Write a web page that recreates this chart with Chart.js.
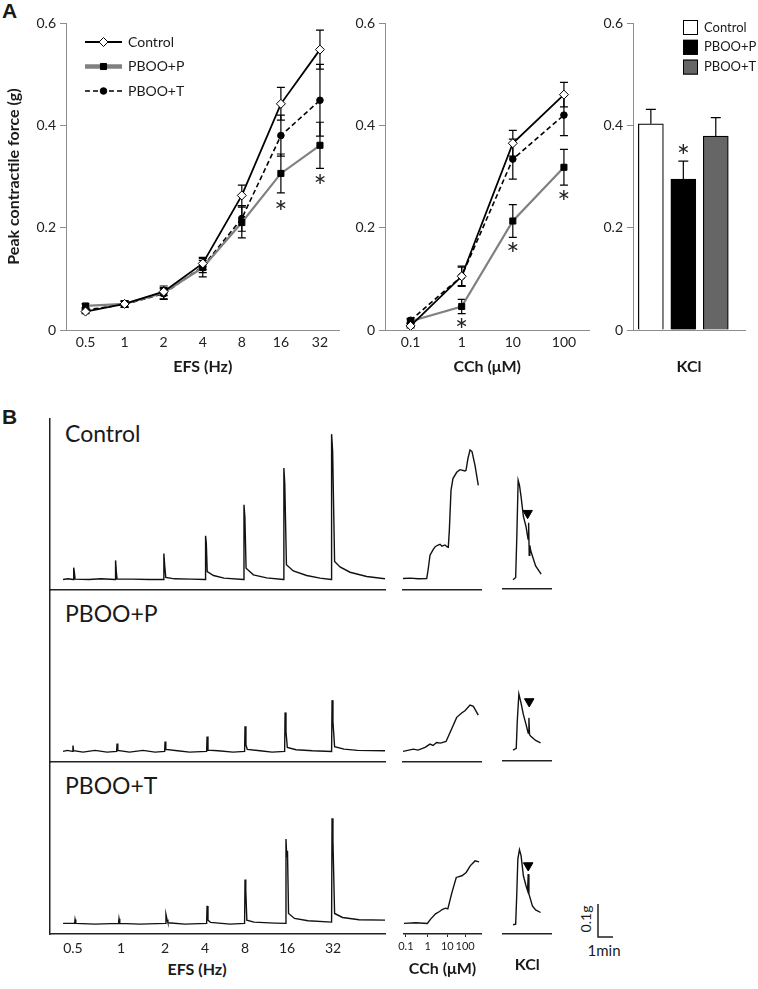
<!DOCTYPE html>
<html><head><meta charset="utf-8">
<script src="https://cdn.jsdelivr.net/npm/chart.js@4/dist/chart.umd.min.js"></script>
<style>
body{margin:0;background:#fff;}
#fig{position:relative;width:758px;height:989px;overflow:hidden;font-family:Lato,sans-serif;color:#1a1a1a;background:#fff;}
.t{position:absolute;white-space:nowrap;line-height:1.2;}
.pl{position:absolute;font-family:"Liberation Sans",Arial,sans-serif;font-weight:bold;font-size:21px;line-height:1;}
</style></head><body><div id="fig">
<div class="pl" style="left:2px;top:0px">A</div>
<div class="pl" style="left:2px;top:406px">B</div>
<div class="t" style="left:65px;top:420px;font-size:23px">Control</div>
<div class="t" style="left:65px;top:600px;font-size:23px">PBOO+P</div>
<div class="t" style="left:65px;top:772px;font-size:23px">PBOO+T</div>
<div class="t" style="left:197px;top:959px;font-size:16px;font-weight:bold;transform:translateX(-50%)">EFS (Hz)</div>
<div class="t" style="left:586px;top:919px;font-size:14px;transform:translate(-50%,-50%) rotate(-90deg)">0.1g</div>
<div class="t" style="left:604px;top:941px;font-size:15px;transform:translateX(-50%)">1min</div>
</div>
<script>
// ---------- Panel A data ----------
const efsLabels = ['0.5','1','2','4','8','16','32'];
const efsControl = [0.036, 0.051, 0.075, 0.130, 0.263, 0.442, 0.548];
const efsControlSE = [0.004, 0.006, 0.008, 0.012, 0.020, 0.032, 0.038];
const efsP = [0.047, 0.051, 0.073, 0.122, 0.210, 0.306, 0.361];
const efsPSE = [0.004, 0.006, 0.013, 0.018, 0.030, 0.038, 0.045];
const efsT = [0.039, 0.050, 0.071, 0.124, 0.218, 0.380, 0.449];
const efsTSE = [0.004, 0.006, 0.010, 0.012, 0.025, 0.040, 0.070];
const efsStars = [[5, 0.244], [6, 0.296]];

const cchLabels = ['0.1','1','10','100'];
const cchControl = [0.008, 0.105, 0.365, 0.460];
const cchControlSE = [0.004, 0.020, 0.025, 0.024];
const cchP = [0.017, 0.046, 0.213, 0.318];
const cchPSE = [0.004, 0.014, 0.032, 0.035];
const cchT = [0.019, 0.105, 0.334, 0.420];
const cchTSE = [0.004, 0.018, 0.039, 0.040];
const cchStars = [[1, 0.014], [2, 0.163], [3, 0.263]];

const kclGroups = ['Control','PBOO+P','PBOO+T'];
const kclMean = [0.403, 0.295, 0.379];
const kclSE = [0.028, 0.035, 0.036];
const kclStars = [[1, 0.353]];
const kclColors = ['#ffffff','#000000','#666666'];

const seriesNames = ['Control','PBOO+P','PBOO+T'];

// ---------- Panel B data (time in min, force in g above baseline) ----------
const efsTickTimes = [1.53, 4.73, 7.67, 10.33, 13.0, 15.8, 18.87];
const cchTickTimes = [0.13, 1.6, 2.93, 4.13];

const traceEfsControl = [[0.87,0],[1.2,0.002],[1.55,0],[1.58,0.036],[1.63,0.02],[1.67,0.001],[2.6,0],[3.4,0.002],[4.34,0],[4.37,0.058],[4.42,0.025],[4.47,0.001],[5.5,0.001],[6.6,0],[7.56,0],[7.59,0.079],[7.65,0.04],[7.72,0.006],[8.3,0.002],[9.4,0.001],[10.34,0],[10.37,0.133],[10.42,0.11],[10.48,0.024],[10.9,0.012],[11.6,0.004],[12.9,0],[12.93,0.227],[12.99,0.19],[13.07,0.034],[13.56,0.014],[14.44,0.005],[15.56,0],[15.59,0.339],[15.65,0.29],[15.76,0.045],[16.22,0.026],[17.11,0.012],[18.0,0.004],[18.74,0],[18.77,0.442],[18.84,0.39],[18.97,0.055],[19.33,0.038],[20.0,0.022],[21.11,0.009],[22.33,0.002]];
const traceEfsP = [[0.87,0],[1.15,0.003],[1.5,0],[1.53,0.018],[1.57,0.002],[2.2,-0.002],[3.0,0.003],[3.8,-0.002],[4.44,0],[4.47,0.024],[4.52,0.003],[5.3,-0.002],[6.2,0.003],[7.0,-0.002],[7.64,0],[7.67,0.03],[7.72,0.006],[8.5,0.002],[9.3,-0.002],[10.44,0],[10.47,0.045],[10.53,0.004],[11.2,0.002],[12.2,-0.002],[12.97,0],[13.0,0.076],[13.06,0.02],[13.15,0.006],[14.0,0.002],[14.8,-0.002],[15.64,0],[15.67,0.118],[15.73,0.06],[15.82,0.012],[16.4,0.005],[17.5,0.002],[18.77,0],[18.8,0.155],[18.86,0.09],[18.97,0.014],[19.6,0.007],[20.5,0.003],[22.33,0.002]];
const traceEfsT = [[0.87,0],[1.64,0],[1.67,0.012],[1.72,0],[3.0,-0.002],[4.57,0],[4.6,0.014],[4.65,0],[6.0,-0.002],[7.7,0],[7.73,0.027],[7.8,0.012],[7.86,0.002],[9.0,-0.002],[10.44,0],[10.47,0.053],[10.53,0.01],[10.7,0.003],[12.0,-0.002],[12.97,0],[13.0,0.133],[13.05,0.1],[13.12,0.01],[13.6,0.004],[15.0,0.001],[15.7,0],[15.73,0.255],[15.78,0.2],[15.83,0.22],[15.9,0.03],[16.3,0.015],[17.2,0.008],[18.77,0.004],[18.8,0.318],[18.86,0.25],[18.97,0.03],[19.5,0.018],[20.6,0.011],[22.33,0.01]];

const traceCchControl = [[0.0,0.003],[0.5,0.004],[1.0,0.002],[1.58,0.003],[1.67,0.028],[1.8,0.074],[2.0,0.09],[2.13,0.099],[2.3,0.104],[2.47,0.107],[2.6,0.101],[2.8,0.105],[2.95,0.099],[3.02,0.098],[3.09,0.15],[3.2,0.271],[3.33,0.307],[3.58,0.326],[3.8,0.334],[4.13,0.33],[4.2,0.332],[4.33,0.368],[4.47,0.394],[4.6,0.389],[4.8,0.347],[5.02,0.286]];
const traceCchP = [[0.0,0],[0.69,0.007],[1.0,0.004],[1.47,0.012],[1.8,0.022],[2.0,0.018],[2.24,0.027],[2.5,0.025],[2.87,0.03],[3.24,0.068],[3.58,0.103],[3.91,0.116],[4.13,0.123],[4.47,0.14],[4.69,0.136],[5.02,0.11]];
const traceCchT = [[0.0,0],[0.8,0.002],[1.58,0],[1.8,0.013],[2.13,0.029],[2.4,0.036],[2.58,0.042],[2.8,0.046],[2.96,0.044],[3.24,0.094],[3.53,0.139],[3.91,0.144],[4.2,0.154],[4.47,0.174],[4.8,0.189],[5.07,0.186]];

const traceKclControl = [[0.69,-0.005],[0.87,0.002],[0.95,0.128],[1.04,0.3],[1.13,0.285],[1.24,0.25],[1.4,0.189],[1.58,0.158],[1.69,0.128],[1.72,0.12],[1.76,0.17],[1.8,0.07],[1.84,0.1],[1.91,0.083],[2.24,0.037],[2.62,0.012]];
const traceKclP = [[0.69,0],[0.91,0.005],[0.98,0.088],[1.09,0.171],[1.24,0.143],[1.4,0.108],[1.58,0.078],[1.73,0.052],[1.78,0.098],[1.82,0.047],[1.91,0.042],[2.24,0.029],[2.58,0.022]];
const traceKclT = [[0.69,-0.004],[0.87,-0.002],[0.95,0.094],[1.02,0.195],[1.13,0.223],[1.24,0.205],[1.4,0.144],[1.58,0.114],[1.69,0.099],[1.73,0.149],[1.78,0.089],[2.02,0.053],[2.24,0.041],[2.58,0.033]];
const kclArrowControl = [[1.69, 0.199]];
const kclArrowP = [[1.8, 0.148]];
const kclArrowT = [[1.73, 0.175]];
const scaleBar = [[0, 0.1], [0, 0], [1, 0]];

// ---------- setup ----------
Chart.defaults.font.family = 'Lato, sans-serif';
Chart.defaults.color = '#1a1a1a';
Chart.defaults.animation = false;
Chart.defaults.responsive = false;
Chart.defaults.events = [];
Chart.defaults.plugins.legend.display = false;
Chart.defaults.plugins.tooltip.enabled = false;

function mk(left, top, w, h) {
  const c = document.createElement('canvas');
  c.width = w; c.height = h;
  c.style.cssText = 'position:absolute;left:' + left + 'px;top:' + top + 'px;width:' + w + 'px;height:' + h + 'px';
  document.getElementById('fig').appendChild(c);
  return c.getContext('2d');
}
const pts = arr => arr.map(([x, y]) => ({x, y}));

const errBars = {
  id: 'errBars',
  beforeDatasetsDraw(chart) { this._draw(chart, false); },
  afterDatasetsDraw(chart) { this._draw(chart, true); },
  _draw(chart, after) {
    const ctx = chart.ctx, ys = chart.scales.y;
    chart.data.datasets.forEach((ds, i) => {
      if (!ds.se || (!!ds.seUpOnly) !== after) return;
      const meta = chart.getDatasetMeta(i);
      ctx.save();
      ctx.strokeStyle = '#000'; ctx.lineWidth = 1.2; ctx.setLineDash([]);
      meta.data.forEach((el, j) => {
        const raw = ds.data[j]; const v = typeof raw === 'object' ? raw.y : raw;
        const top = ys.getPixelForValue(v + ds.se[j]);
        const bot = ds.seUpOnly ? ys.getPixelForValue(v) : ys.getPixelForValue(v - ds.se[j]);
        const x = el.x, cap = ds.seCap || 4;
        ctx.beginPath();
        ctx.moveTo(x, top); ctx.lineTo(x, bot);
        ctx.moveTo(x - cap, top); ctx.lineTo(x + cap, top);
        if (!ds.seUpOnly) { ctx.moveTo(x - cap, bot); ctx.lineTo(x + cap, bot); }
        ctx.stroke();
      });
      ctx.restore();
    });
  }
};

const stars = {
  id: 'stars',
  afterDatasetsDraw(chart, args, opts) {
    if (!opts.points) return;
    const ctx = chart.ctx;
    ctx.save();
    ctx.font = '31px Lato'; ctx.fillStyle = '#222'; ctx.textAlign = 'center'; ctx.textBaseline = 'alphabetic';
    const m = ctx.measureText('*');
    const off = (m.actualBoundingBoxAscent - m.actualBoundingBoxDescent) / 2;
    opts.points.forEach(([xi, yv]) => {
      ctx.fillText('*', chart.scales.x.getPixelForValue(xi), chart.scales.y.getPixelForValue(yv) + off);
    });
    ctx.restore();
  }
};

const lineLegend = {
  id: 'lineLegend',
  afterDraw(chart, args, o) {
    if (o.x === undefined) return;
    const ctx = chart.ctx;
    chart.data.datasets.forEach((ds, i) => {
      const y = o.y + i * o.gap;
      ctx.save();
      ctx.strokeStyle = ds.borderColor; ctx.lineWidth = ds.legendLineWidth; ctx.setLineDash(ds.borderDash || []);
      ctx.beginPath(); ctx.moveTo(o.x, y); ctx.lineTo(o.x + o.len, y); ctx.stroke();
      ctx.setLineDash([]);
      ctx.fillStyle = ds.pointBackgroundColor; ctx.strokeStyle = ds.pointBorderColor; ctx.lineWidth = ds.pointBorderWidth;
      Chart.helpers.drawPoint(ctx, {pointStyle: ds.pointStyle, radius: ds.pointRadius, borderWidth: ds.pointBorderWidth, rotation: 0}, o.x + o.len / 2, y);
      ctx.fillStyle = '#1a1a1a'; ctx.font = '14px Lato'; ctx.textBaseline = 'middle'; ctx.textAlign = 'left';
      ctx.fillText(ds.label, o.x + o.len + 6, y);
      ctx.restore();
    });
  }
};

const boxLegend = {
  id: 'boxLegend',
  afterDraw(chart, args, o) {
    if (o.x === undefined) return;
    const ctx = chart.ctx;
    o.labels.forEach((lab, i) => {
      const y = o.y + i * o.gap;
      ctx.save();
      ctx.fillStyle = o.colors[i]; ctx.strokeStyle = '#000'; ctx.lineWidth = 1;
      ctx.fillRect(o.x, y - o.size / 2, o.size, o.size);
      ctx.strokeRect(o.x + 0.5, y - o.size / 2 + 0.5, o.size - 1, o.size - 1);
      ctx.fillStyle = '#1a1a1a'; ctx.font = '13px Lato'; ctx.textBaseline = 'middle'; ctx.textAlign = 'left';
      ctx.fillText(lab, o.x + o.size + 6, y);
      ctx.restore();
    });
  }
};

const styleControl = {borderColor:'#000', borderWidth:1.8, pointStyle:'rectRot', pointRadius:4.5, pointBackgroundColor:'#fff', pointBorderColor:'#000', pointBorderWidth:1, legendLineWidth:1.8};
const styleP = {borderColor:'#808080', borderWidth:2.2, pointStyle:'rect', pointRadius:4.3, pointBackgroundColor:'#000', pointBorderColor:'#000', pointBorderWidth:1, legendLineWidth:4.5};
const styleT = {borderColor:'#000', borderWidth:1.6, borderDash:[5,3], pointStyle:'circle', pointRadius:3.3, pointBackgroundColor:'#000', pointBorderColor:'#000', pointBorderWidth:1, legendLineWidth:1.6};

const axisGray = '#8c8c8c';
function yA(w, withTitle) {
  return {
    min: 0, max: 0.6,
    ticks: {stepSize: 0.2, font: {size: 14}, color: '#222', padding: 4, callback: v => String(Number(v.toFixed(1)))},
    grid: {display: true, drawOnChartArea: false, drawTicks: true, tickLength: 6, color: axisGray},
    border: {display: true, color: axisGray, width: 1},
    title: withTitle ? {display: true, text: 'Peak contractile force (g)', font: {size: 16, weight: 'bold'}, color: '#1a1a1a', padding: {top: 4, bottom: 4}} : {display: false},
    afterFit: s => { s.width = w; }
  };
}
function xA(title, showLabels) {
  return {
    offset: true,
    ticks: {display: showLabels, font: {size: 14}, color: '#222', padding: 4, autoSkip: false, maxRotation: 0},
    grid: {display: false, drawTicks: false},
    border: {display: true, color: axisGray, width: 1},
    title: {display: true, text: title, font: {size: 16, weight: 'bold'}, color: '#1a1a1a', padding: {top: 4, bottom: 4}},
    afterFit: s => { s.height = 50; }
  };
}

// ---------- Panel A ----------
new Chart(mk(0, 0, 345, 380), {
  type: 'line',
  data: {labels: efsLabels, datasets: [
    Object.assign({label: seriesNames[0], data: efsControl, se: efsControlSE}, styleControl),
    Object.assign({label: seriesNames[1], data: efsP, se: efsPSE}, styleP),
    Object.assign({label: seriesNames[2], data: efsT, se: efsTSE}, styleT)
  ]},
  options: {
    layout: {padding: {top: 23, right: 5, left: 0, bottom: 0}},
    scales: {x: xA('EFS (Hz)', true), y: yA(66, true)},
    plugins: {stars: {points: efsStars}, lineLegend: {x: 85, y: 42, gap: 24.5, len: 37}}
  },
  plugins: [errBars, stars, lineLegend]
});

new Chart(mk(345, 0, 250, 380), {
  type: 'line',
  data: {labels: cchLabels, datasets: [
    Object.assign({label: seriesNames[0], data: cchControl, se: cchControlSE}, styleControl),
    Object.assign({label: seriesNames[1], data: cchP, se: cchPSE}, styleP),
    Object.assign({label: seriesNames[2], data: cchT, se: cchTSE}, styleT)
  ]},
  options: {
    layout: {padding: {top: 23, right: 5, left: 0, bottom: 0}},
    scales: {x: xA('CCh (\u03bcM)', true), y: yA(40, false)},
    plugins: {stars: {points: cchStars}}
  },
  plugins: [errBars, stars]
});

new Chart(mk(600, 0, 158, 380), {
  type: 'bar',
  data: {datasets: [{
    label: 'KCl', data: kclMean.map((v, i) => ({x: i, y: v})), se: kclSE, seUpOnly: true, seCap: 5,
    backgroundColor: kclColors, borderColor: '#000', borderWidth: 1.2, barThickness: 25
  }]},
  options: {
    layout: {padding: {top: 23, right: 13, left: 0, bottom: 0}},
    scales: {
      x: Object.assign(xA('KCl', false), {type: 'linear', min: -0.55, max: 2.9, offset: false}),
      y: yA(33, false)
    },
    plugins: {stars: {points: kclStars}, boxLegend: {x: 83, y: 27.5, gap: 19.8, size: 15, labels: kclGroups, colors: kclColors}}
  },
  plugins: [errBars, stars, boxLegend]
});

// ---------- Panel B ----------
const traceY = {min: -0.032, max: 0.488};
function traceX(xMax, extra) {
  return Object.assign({
    type: 'linear', min: 0, max: xMax,
    ticks: {display: false},
    grid: {display: false, drawTicks: false},
    border: {display: true, color: '#222', width: 1.5},
    afterFit: s => { s.height = 0; }
  }, extra || {});
}
function traceYAxis(show) {
  return Object.assign({}, traceY, {
    display: show,
    ticks: {display: false},
    grid: {display: false, drawTicks: false},
    border: {display: true, color: '#222', width: 1.5},
    afterFit: s => { s.width = 0; }
  });
}
function traceDs(arr) {
  return {data: pts(arr), showLine: true, borderColor: '#111', borderWidth: 1.4, pointRadius: 0, tension: 0};
}
function arrowDs(arr) {
  return {data: pts(arr), showLine: false, pointStyle: 'triangle', rotation: 180, pointRadius: 5.5, pointBackgroundColor: '#000', pointBorderColor: '#000', pointBorderWidth: 1};
}
function traceChart(left, top, w, h, pad, datasets, x, showY) {
  return new Chart(mk(left, top, w, h), {
    type: 'scatter',
    data: {datasets},
    options: {layout: {padding: pad}, scales: {x, y: traceYAxis(showY)}}
  });
}
const efsMax = 22.33, cchMax = 5.2, kclMax = 3.33;
const bottomX = (max, times, labels, titleText, titlePad, tickLen, tickPad, fontSize) => traceX(max, {
  afterBuildTicks: s => { s.ticks = times.map(v => ({value: v})); },
  ticks: {display: !!times.length, autoSkip: false, maxRotation: 0, padding: tickPad, font: {size: fontSize}, color: '#222', callback: (v, i) => labels[i]},
  grid: {display: tickLen > 0, drawOnChartArea: false, drawTicks: tickLen > 0, tickLength: tickLen, color: '#222'},
  title: {display: !!titleText, text: titleText, font: {size: 16, weight: 'bold'}, color: '#1a1a1a', padding: titlePad},
  afterFit: s => { s.height = 48; }
});

// rows: EFS
const rowPad = {left: 10, top: 10, right: 5, bottom: 5};
traceChart(40, 409, 350, 186, rowPad, [traceDs(traceEfsControl)], traceX(efsMax), true);
traceChart(40, 580, 350, 187, rowPad, [traceDs(traceEfsP)], traceX(efsMax), true);
traceChart(40, 752, 350, 230, {left: 10, top: 10, right: 5, bottom: 0}, [traceDs(traceEfsT)],
  bottomX(efsMax, efsTickTimes, efsLabels, '', {top: 4, bottom: 4}, 0, 6, 14), true);

// rows: CCh
const cPad = {left: 8, top: 10, right: 5, bottom: 5};
traceChart(395, 409, 91, 186, cPad, [traceDs(traceCchControl)], traceX(cchMax), false);
traceChart(395, 580, 91, 187, cPad, [traceDs(traceCchP)], traceX(cchMax), false);
traceChart(395, 752, 91, 230, {left: 8, top: 10, right: 5, bottom: 0}, [traceDs(traceCchT)],
  bottomX(cchMax, cchTickTimes, cchLabels, 'CCh (\u03bcM)', {top: 4, bottom: 4}, 3, 3, 11), false);

// rows: KCl
traceChart(495, 409, 63, 186, cPad, [traceDs(traceKclControl), arrowDs(kclArrowControl)], traceX(kclMax), false);
traceChart(495, 580, 63, 187, cPad, [traceDs(traceKclP), arrowDs(kclArrowP)], traceX(kclMax), false);
traceChart(495, 752, 63, 230, {left: 8, top: 10, right: 5, bottom: 0}, [traceDs(traceKclT), arrowDs(kclArrowT)],
  bottomX(kclMax, [], [], 'KCl', {top: 4, bottom: 8}, 0, 3, 13), false);

// scale bar
new Chart(mk(590, 896, 30, 50), {
  type: 'scatter',
  data: {datasets: [{data: pts(scaleBar), showLine: true, borderColor: '#222', borderWidth: 1.5, pointRadius: 0, clip: false}]},
  options: {
    layout: {padding: {left: 8, top: 8, right: 7, bottom: 9}},
    scales: {x: {min: 0, max: 1, display: false}, y: {min: 0, max: 0.1, display: false}}
  }
});
</script>
</body></html>
